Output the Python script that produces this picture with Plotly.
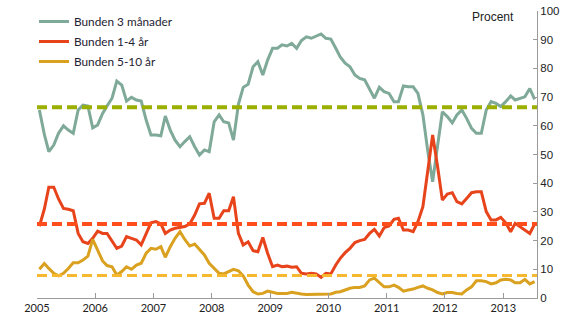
import pandas as pd
import plotly.graph_objects as go

# Monthly data, 2005-01 .. 2013-07 (percent of outstanding loans)
start_month = "2005-01-01"
n_months = 103

bunden_3m = [65.5, 57, 51, 53.3, 57.4, 60, 58.5, 57.4, 65.5, 67.2, 66.9, 59.3, 60.3, 64.3, 66.9, 69.6, 75.6, 74.2, 68.6, 69.9,
             69, 68.6, 62, 56.8, 56.8, 56.5, 63.4, 58.5, 55, 52.7, 54.5, 56.2, 52.7, 49.8, 51.6, 51, 61.4, 63.8, 61.4, 61,
             55, 67.5, 73.4, 74.5, 80.6, 82.3, 77.7, 82.9, 87, 87, 88.2, 87.8, 88.7, 87, 89.7, 91, 90.5, 91.3, 92, 90.5, 90.2,
             87, 84, 81.8, 80.6, 77.7, 76.5, 76, 72.5, 69.6, 73.4, 71.9, 71.3, 68.4, 68.4, 73.9, 73.6, 73.6, 71.3, 63.8, 51, 40.5,
             53, 64.9, 63.2, 61, 63.8, 65.5, 62.6, 59.1, 57.4, 57.4, 65.5, 68.4, 67.8, 66.7, 68.4, 70.4, 69, 69.6, 70.1, 73, 69.2]

bunden_1_4 = [25, 31, 38.6, 38.6, 34.5, 31.2, 30.9, 30.4, 22.5, 19.6, 19, 20.8, 23.3, 22.5, 22.5, 19.6, 17.3, 18.1, 21.4, 20.8,
              20.2, 18.5, 22.5, 26.2, 26.6, 25.8, 22.5, 23.7, 24.3, 24.5, 24.9, 25.8, 28.9, 32.8, 33, 36.5, 27.8, 27.8, 30.4, 30.4,
              35.3, 22.5, 18.5, 19.6, 16.5, 16.1, 21.1, 15.6, 10.9, 11.5, 10.9, 11.1, 10.7, 10.9, 8.6, 8.4, 8.6, 8.4, 7.2, 8.6, 8.4,
              11.5, 13.8, 15.8, 17.3, 19.3, 20, 20.4, 22.5, 23.9, 21.6, 24.5, 25.1, 27.4, 27.8, 23.7, 23.7, 23.1, 26.6, 31.8, 44.6, 56.8,
              45.8, 34.1, 36.2, 36.7, 33.6, 32.8, 34.7, 36.7, 37, 37, 30.1, 27.2, 27.2, 28.1, 26.2, 23.1, 26, 24.9, 23.7, 22.5, 25.8]

bunden_5_10 = [10, 12, 10.3, 8.6, 7.7, 8.6, 10.3, 12.3, 12.3, 13.2, 14.6, 20.4, 16.7, 12.9, 11.3, 10.9, 8, 9.2, 10.9, 10,
               11.5, 12.1, 15.6, 17.3, 17, 17.9, 14.2, 17.9, 20.8, 23.1, 20.4, 18.1, 18.8, 17, 15, 12.1, 10.3, 8.6, 8.4, 9.2,
               10, 9.5, 7.7, 4.5, 2.2, 1.4, 1.6, 2.4, 2, 1.6, 1.6, 1.6, 2, 1.6, 1.4, 1.2, 1.2, 1.3, 1.3, 1.4, 1.4,
               2, 2.2, 2.8, 3.4, 3.7, 3.7, 4.2, 6.3, 6.9, 5.3, 3.9, 3.9, 4.5, 3.7, 2.4, 2.8, 3.1, 3.7, 4.2, 3.4, 2.8,
               1.9, 1.4, 1.9, 1.9, 1.6, 1.4, 2.8, 3.9, 6, 6, 5.7, 4.9, 5.3, 6.3, 6.5, 6.3, 5.3, 5.3, 6.5, 4.9, 5.7]

# Averages (dashed lines)
avg_3m = 66.5
avg_1_4 = 25.8
avg_5_10 = 7.8

series_names = ["Bunden 3 månader", "Bunden 1-4 år", "Bunden 5-10 år"]
line_colors = ["#7fa998", "#e8441c", "#d9a11f"]
avg_colors = ["#9aaf00", "#ff4d1c", "#f6b82f"]

x_dates = pd.date_range(start_month, periods=n_months, freq="MS") + pd.Timedelta(days=15)

fig = go.Figure()
for name, vals, col in zip(series_names, [bunden_3m, bunden_1_4, bunden_5_10], line_colors):
    fig.add_trace(go.Scatter(x=x_dates, y=vals, mode="lines", name=name,
                             line=dict(color=col, width=3), legendgroup=name))

for avg, col, w in zip([avg_3m, avg_1_4, avg_5_10], avg_colors, [4, 4, 3]):
    fig.add_hline(y=avg, line=dict(color=col, width=w, dash="10px,5px"))

fig.update_layout(
    width=580, height=334,
    margin=dict(l=37, r=43, t=11, b=36, autoexpand=False),
    plot_bgcolor="white", paper_bgcolor="white",
    showlegend=True,
    legend=dict(x=-0.006, y=1.014, xanchor="left", yanchor="top",
                font=dict(family="Lato", size=11.8, color="#1e2233"),
                bgcolor="rgba(0,0,0,0)", tracegroupgap=1),
    xaxis=dict(type="date", range=["2005-01-01", "2013-07-31"],
               tick0="2005-01-01", dtick="M12", tickformat="%Y",
               showline=True, linecolor="#9a9a9a", linewidth=1,
               ticks="inside", ticklen=5, tickcolor="#9a9a9a",
               showgrid=False, zeroline=False,
               tickfont=dict(family="Lato", size=11, color="#222222")),
    yaxis=dict(range=[0, 100], side="right", dtick=10,
               showline=True, linecolor="#9a9a9a", linewidth=1,
               ticks="inside", ticklen=4, tickcolor="#9a9a9a",
               showgrid=False, zeroline=False,
               tickfont=dict(family="Liberation Sans", size=11.5, color="#222222")),
    annotations=[dict(text="Procent", xref="paper", yref="paper", x=0.958, y=0.979,
                      xanchor="right", yanchor="middle", showarrow=False,
                      font=dict(family="Liberation Sans", size=12, color="#222222"))],
)

fig.write_html("out.html")
